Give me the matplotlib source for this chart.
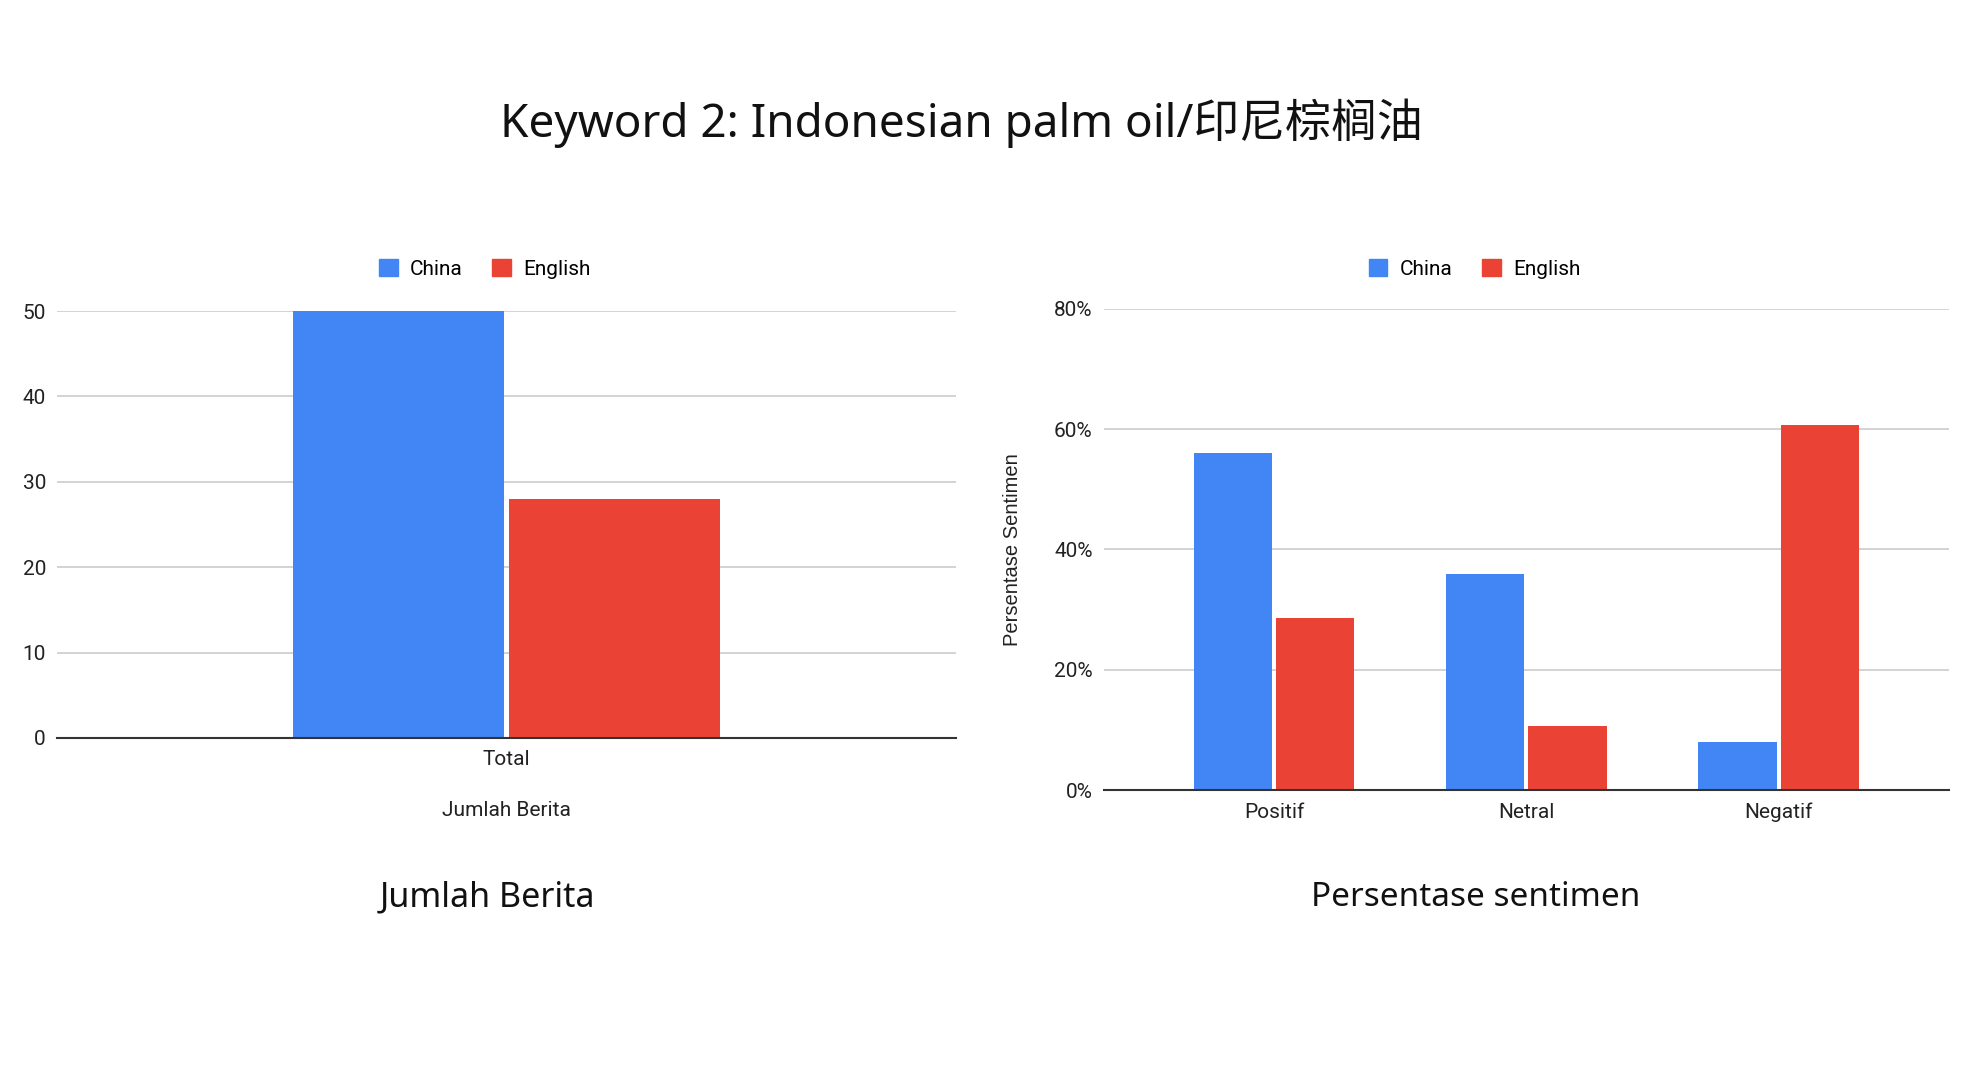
import matplotlib
matplotlib.use("Agg")
import matplotlib.pyplot as plt
import numpy as np
from matplotlib.patches import Patch
from matplotlib.ticker import FuncFormatter

# data
series = ["China", "English"]
colors = ["#4285F4", "#EA4335"]
total_labels = ["Total"]
total_counts = {"China": [50], "English": [28]}
sentiments = ["Positif", "Netral", "Negatif"]
sentiment_pct = {"China": [56.0, 36.0, 8.0], "English": [28.6, 10.7, 60.7]}

TICK_FONT = "Roboto"
GRID = "#cccccc"
BASE = "#333333"

fig = plt.figure(figsize=(19.8, 10.8), dpi=100)
fig.patch.set_facecolor("white")

fig.text(0.4856, 0.886, "Keyword 2: Indonesian palm oil/印尼棕榈油",
         ha="center", va="center", fontsize=33,
         family=["Noto Sans", "Noto Sans CJK SC"], color="#111111")


def style_axes(ax):
    for s in ("top", "right", "left"):
        ax.spines[s].set_visible(False)
    ax.spines["bottom"].set_color(BASE)
    ax.spines["bottom"].set_linewidth(1.5)
    ax.grid(axis="y", color=GRID, linewidth=1.2)
    ax.set_axisbelow(True)
    ax.tick_params(axis="both", length=0, labelsize=15, colors="#222222")
    ax.tick_params(axis="y", pad=8)
    ax.tick_params(axis="x", pad=9)
    for lab in ax.get_xticklabels() + ax.get_yticklabels():
        lab.set_family(TICK_FONT)


def add_legend(ax, xc):
    handles = [Patch(facecolor=c, edgecolor=c, label=s) for s, c in zip(series, colors)]
    leg = ax.legend(handles=handles, loc="center", bbox_to_anchor=(xc, 0.751),
                    bbox_transform=fig.transFigure,
                    ncol=2, frameon=False, handlelength=0.9, handleheight=0.9,
                    handletextpad=0.6, columnspacing=1.4,
                    prop={"family": TICK_FONT, "size": 15})
    return leg


# left chart: jumlah berita
ax1 = fig.add_axes([0.0288, 0.3167, 0.4539, 0.3953])
x1 = np.arange(len(total_labels))
w1 = 0.469
ax1.bar(x1 - 0.24, total_counts["China"], width=w1, color=colors[0])
ax1.bar(x1 + 0.24, total_counts["English"], width=w1, color=colors[1])
ax1.set_xlim(-1, 1)
ax1.set_ylim(0, 50)
ax1.set_yticks([0, 10, 20, 30, 40, 50])
ax1.set_xticks(x1)
ax1.set_xticklabels(total_labels)
ax1.set_xlabel("Jumlah Berita", family=TICK_FONT, fontsize=15, labelpad=23, color="#222222")
style_axes(ax1)
add_legend(ax1, 0.2448)

# right chart: persentase sentimen
ax2 = fig.add_axes([0.5575, 0.2685, 0.4268, 0.4455])
x2 = np.arange(len(sentiments))
w2 = 0.31
ax2.bar(x2 - 0.163, sentiment_pct["China"], width=w2, color=colors[0])
ax2.bar(x2 + 0.163, sentiment_pct["English"], width=w2, color=colors[1])
ax2.set_xlim(-0.675, 2.675)
ax2.set_ylim(0, 80)
ax2.set_yticks([0, 20, 40, 60, 80])
ax2.yaxis.set_major_formatter(FuncFormatter(lambda v, p: f"{v:.0f}%"))
ax2.set_xticks(x2)
ax2.set_xticklabels(sentiments)
ax2.set_ylabel("Persentase Sentimen", family="Liberation Sans", fontsize=14.5, labelpad=23,
               color="#222222")
style_axes(ax2)
add_legend(ax2, 0.7447)

# captions under each chart
fig.text(0.246, 0.169, "Jumlah Berita", ha="center", va="center", fontsize=24.5,
         family="Noto Sans", color="#111111")
fig.text(0.7453, 0.169, "Persentase sentimen", ha="center", va="center", fontsize=24,
         family="Noto Sans", color="#111111")

fig.savefig("out.png", dpi=100, facecolor="white")
